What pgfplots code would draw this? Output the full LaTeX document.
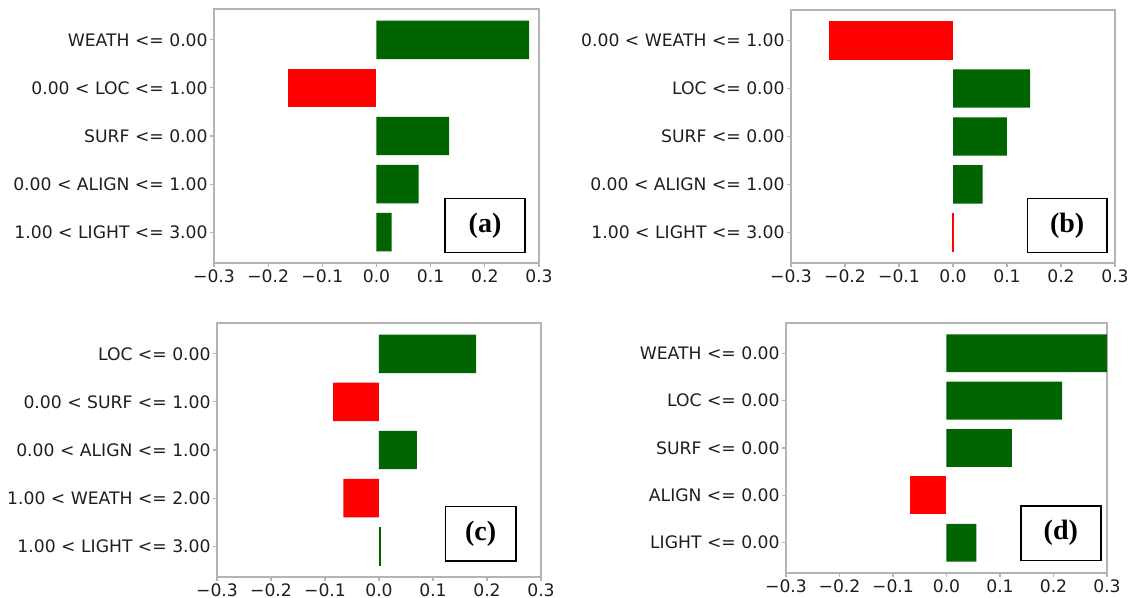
\documentclass[border=0pt]{standalone}
\usepackage{fontspec}
\setmainfont{DejaVu Sans}
\newfontfamily\panelfont{Liberation Serif}
\usepackage{pgfplots}
\pgfplotsset{compat=1.18}

\definecolor{posgreen}{RGB}{0,100,0}
\definecolor{negred}{RGB}{255,0,0}
\definecolor{spine}{RGB}{180,180,180}
\definecolor{ticktext}{RGB}{30,30,30}

\pgfplotsset{
  limeplot/.style={
    scale only axis, anchor=north west,
    xmin=-0.3, xmax=0.3, ymin=-0.64, ymax=4.64, y dir=reverse,
    xtick={-0.3,-0.2,-0.1,0,0.1,0.2,0.3},
    xticklabels={−0.3,−0.2,−0.1,0.0,0.1,0.2,0.3},
    ytick={0,1,2,3,4},
    xtick pos=lower, ytick pos=left, tick align=outside,
    major tick length=2pt,
    axis line style={spine, line width=0.6pt},
    every tick/.style={spine, line width=0.6pt},
    tick label style={font=\fontsize{8.6}{10}\selectfont, text=ticktext},
    yticklabel style={inner sep=1pt},
    xticklabel style={inner sep=1pt},
  },
  posbar/.style={xbar, bar width=0.8, bar shift=0pt, fill=posgreen, draw=none},
  negbar/.style={xbar, bar width=0.8, bar shift=0pt, fill=negred, draw=none},
  % near-zero weights still show as a hairline
  posline/.style={xbar, bar width=0.8, bar shift=0pt, fill=posgreen, draw=posgreen, line width=0.3pt},
  negline/.style={xbar, bar width=0.8, bar shift=0pt, fill=negred, draw=negred, line width=0.3pt},
}

% framed panel tag: lower-left corner, upper-right corner, centre, text
\newcommand\paneltag[4]{%
  \draw[line width=0.7pt] (#1) rectangle (#2);
  \node[font=\panelfont\bfseries\fontsize{14}{16}\selectfont] at (#3) {#4};
}

\begin{document}
\begin{tikzpicture}
\path[use as bounding box] (0pt,0pt) rectangle (565pt,-299pt);

% (a)
\begin{axis}[limeplot, at={(107pt,-4.5pt)}, width=162.5pt, height=127pt,
  yticklabels={WEATH <= 0.00, 0.00 < LOC <= 1.00, SURF <= 0.00, 0.00 < ALIGN <= 1.00, 1.00 < LIGHT <= 3.00}]
  \addplot[posbar] coordinates {(0.282,0) (0.134,2) (0.078,3) (0.028,4)};
  \addplot[negbar] coordinates {(-0.163,1)};
\end{axis}
\paneltag{222.5pt,-99.2pt}{262.5pt,-126.2pt}{242.5pt,-112.7pt}{(a)}

% (b)
\begin{axis}[limeplot, at={(395.5pt,-5pt)}, width=162pt, height=126.5pt,
  yticklabels={0.00 < WEATH <= 1.00, LOC <= 0.00, SURF <= 0.00, 0.00 < ALIGN <= 1.00, 1.00 < LIGHT <= 3.00}]
  \addplot[posbar] coordinates {(0.143,1) (0.100,2) (0.055,3)};
  \addplot[negbar] coordinates {(-0.229,0)};
  \addplot[negline] coordinates {(-0.002,4)};
\end{axis}
\paneltag{513.8pt,-99.2pt}{553.4pt,-126.2pt}{533.6pt,-112.7pt}{(b)}

% (c)
\begin{axis}[limeplot, at={(108.5pt,-161.5pt)}, width=162pt, height=127pt,
  yticklabels={LOC <= 0.00, 0.00 < SURF <= 1.00, 0.00 < ALIGN <= 1.00, 1.00 < WEATH <= 2.00, 1.00 < LIGHT <= 3.00}]
  \addplot[posbar] coordinates {(0.180,0) (0.070,2)};
  \addplot[posline] coordinates {(0.002,4)};
  \addplot[negbar] coordinates {(-0.085,1) (-0.066,3)};
\end{axis}
\paneltag{222.7pt,-253.3pt}{258pt,-280.4pt}{240.3pt,-266.8pt}{(c)}

% (d)
\begin{axis}[limeplot, at={(393pt,-161.5pt)}, width=160.5pt, height=125pt,
  yticklabels={WEATH <= 0.00, LOC <= 0.00, SURF <= 0.00, ALIGN <= 0.00, LIGHT <= 0.00}]
  \addplot[posbar] coordinates {(0.300,0) (0.216,1) (0.122,2) (0.056,4)};
  \addplot[negbar] coordinates {(-0.069,3)};
\end{axis}
\paneltag{510.4pt,-253pt}{550.4pt,-280.2pt}{530.4pt,-266.6pt}{(d)}

\end{tikzpicture}
\end{document}
